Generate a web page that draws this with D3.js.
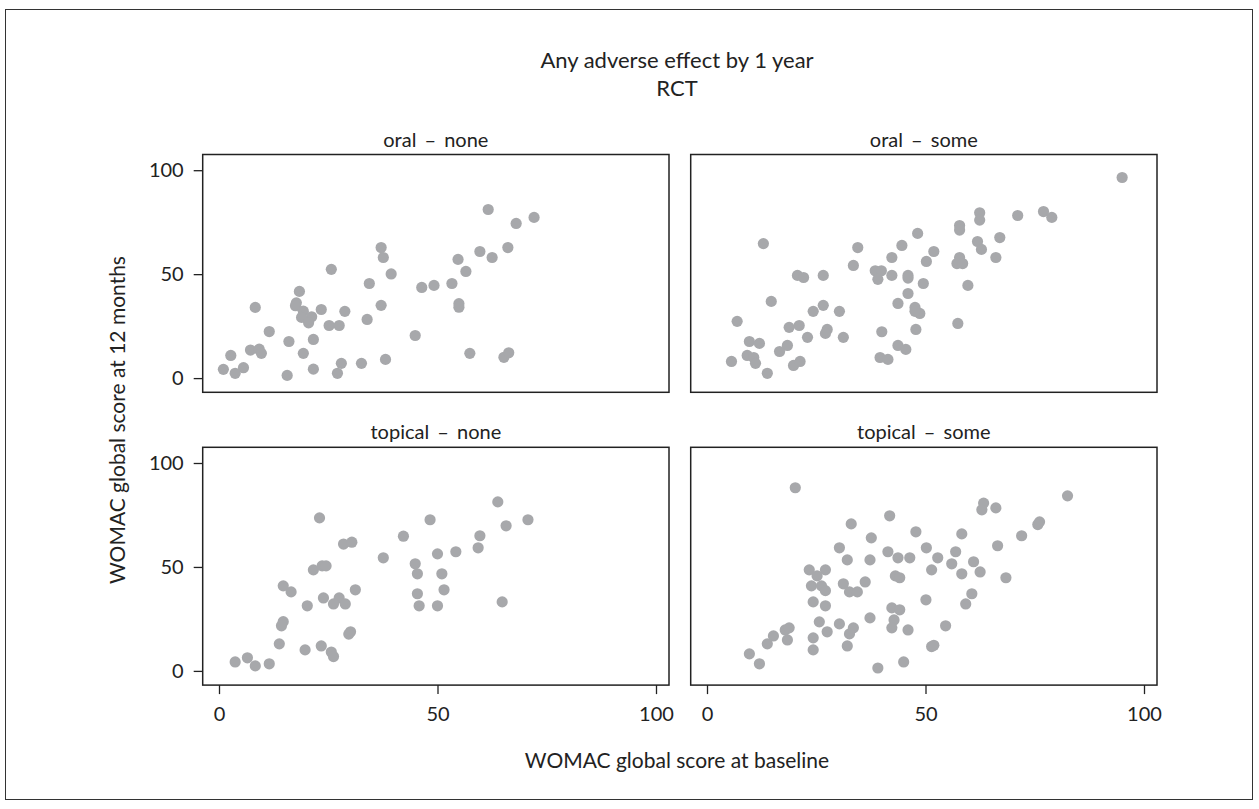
<!DOCTYPE html>
<html>
<head>
<meta charset="utf-8">
<script src="https://cdn.jsdelivr.net/npm/d3@7"></script>
<style>
  body { margin: 0; background: #fff; }
  svg text { font-family: "Gill Sans", "Lato", sans-serif; fill: #222; }
</style>
</head>
<body>
<svg id="chart" width="1259" height="809"></svg>
<script>
// panel titles (facet labels)
var panelNames = ["oral \u2013 none", "oral \u2013 some", "topical \u2013 none", "topical \u2013 some"];
var xTicks = [0, 50, 100];
var yTicks = [0, 50, 100];

// [baseline, 12 months]
var oralNone = [
  [37.1,62.8],[37.6,58.0],[25.7,52.3],[39.4,50.1],[34.4,45.5],[46.4,43.6],[49.2,44.6],
  [18.4,41.7],[8.3,34.0],[17.7,36.2],[17.5,34.8],[19.3,32.2],[21.2,29.5],[18.9,29.2],
  [20.5,26.6],[23.4,33.0],[28.8,32.1],[25.2,25.3],[27.5,25.3],[37.1,35.0],[33.9,28.2],
  [11.5,22.4],[16.0,17.6],[21.6,18.6],[44.9,20.5],[7.2,13.5],[9.2,13.9],[9.7,11.9],
  [2.7,10.9],[19.3,11.9],[5.6,5.0],[1.0,4.2],[3.7,2.3],[15.6,1.3],[21.6,4.3],[28.0,7.1],
  [27.1,2.3],[32.6,7.1],[38.1,9.0],
  [61.6,81.1],[72.1,77.3],[68.0,74.4],[66.1,62.8],[59.7,60.9],[62.5,58.0],[54.7,57.1],
  [56.5,51.3],[53.3,45.5],[54.9,35.8],[54.9,34.1],[57.4,11.9],[65.2,10.0],[66.3,12.2]
];

var oralSome = [
  [48.2,69.6],[12.9,64.7],[34.5,62.8],[44.6,63.8],[42.3,58.0],[50.2,56.1],[33.5,54.2],
  [20.7,49.4],[22.1,48.4],[26.6,49.4],[38.5,51.6],[39.9,51.6],[39.1,47.5],[42.3,49.4],
  [46.0,49.4],[46.0,48.1],[49.5,45.5],[46.0,40.7],[43.7,35.9],[47.6,34.0],[48.7,31.1],
  [47.6,32.1],[47.8,23.4],[40.0,22.3],[43.7,15.7],[45.5,13.8],[39.6,9.9],[41.4,9.0],
  [14.7,36.9],[26.6,35.0],[24.3,32.1],[30.3,32.1],[21.1,25.3],[18.8,24.4],[27.5,23.4],
  [27.1,21.5],[23.0,19.6],[31.2,19.6],[6.9,27.3],[9.7,17.6],[12.0,16.7],[18.4,15.7],
  [16.6,12.8],[9.2,10.9],[10.7,9.9],[11.1,7.1],[5.6,8.0],[13.8,2.3],[19.8,6.1],[21.3,8.0],
  [95.0,96.5],[77.0,80.1],[78.9,77.3],[71.1,78.2],[62.4,79.5],[62.4,76.0],[57.8,73.4],
  [57.8,71.2],[67.0,67.6],[61.9,65.7],[62.8,61.9],[51.9,60.9],[57.8,58.0],[57.2,55.1],
  [58.5,55.1],[66.1,58.0],[59.7,44.6],[57.4,26.3]
];

var topicalNone = [
  [23.0,73.6],[48.3,72.7],[42.2,64.8],[28.5,61.0],[30.4,61.9],[37.6,54.4],[50.0,56.3],
  [21.6,48.6],[23.6,50.5],[24.5,50.5],[44.9,51.5],[45.4,46.7],[14.7,40.9],[16.5,38.0],
  [23.9,35.1],[27.5,35.1],[26.2,32.2],[28.9,32.2],[31.2,39.0],[20.2,31.3],[45.4,37.1],
  [45.8,31.3],[50.0,31.3],[51.0,46.7],[51.5,39.0],[14.7,23.7],[14.3,21.7],[30.1,18.8],
  [29.7,17.7],[13.8,13.0],[19.7,10.1],[23.4,12.0],[25.7,9.1],[26.2,6.9],[3.7,4.3],
  [6.5,6.3],[8.3,2.4],[11.5,3.4],
  [63.8,81.3],[70.7,72.7],[65.7,69.8],[59.7,65.0],[59.3,59.2],[54.2,57.3],[64.8,33.2]
];

var topicalSome = [
  [20.2,88.1],[41.8,74.6],[33.0,70.7],[47.8,66.9],[37.6,64.0],[30.3,59.2],[50.2,59.2],
  [41.4,57.3],[43.7,54.4],[46.4,54.4],[32.1,53.4],[37.3,53.4],[51.4,48.6],[23.4,48.6],
  [27.1,48.6],[25.2,45.7],[43.1,45.7],[44.1,44.8],[23.9,40.9],[26.2,40.9],[27.1,38.6],
  [31.2,41.9],[36.2,42.8],[32.6,38.0],[34.4,38.0],[24.3,33.2],[27.1,31.3],[50.1,34.2],
  [42.3,30.3],[44.1,29.4],[37.3,25.5],[42.8,24.5],[42.3,20.7],[46.0,19.7],[25.7,23.6],
  [30.3,22.6],[33.5,20.7],[32.6,17.8],[27.5,18.8],[24.3,15.9],[24.3,10.1],[32.1,12.0],
  [17.9,19.7],[18.8,20.7],[18.4,14.9],[15.2,16.8],[13.8,13.0],[9.7,8.2],[12.0,3.4],
  [39.1,1.4],[45.0,4.3],[51.4,11.7],[51.9,12.3],
  [82.5,84.2],[63.3,80.7],[62.9,77.5],[66.1,78.4],[76.1,71.7],[75.7,70.4],[72.0,65.0],
  [58.3,65.9],[66.5,60.2],[56.9,57.3],[52.8,54.4],[56.0,51.5],[61.0,52.5],[58.3,46.7],
  [62.5,47.6],[68.4,44.8],[60.6,37.1],[59.2,32.2],[54.6,21.7]
];

var panelData = [oralNone, oralSome, topicalNone, topicalSome];

var svg = d3.select("#chart");
var pw = 466.3, ph = 237.8;
var colX = [202.7, 690.7], rowY = [154.5, 447.3];

// outer frame
svg.append("rect")
  .attr("x", 5.5).attr("y", 9.5).attr("width", 1247).attr("height", 790)
  .attr("fill", "none").attr("stroke", "#333").attr("stroke-width", 1);

var x = d3.scaleLinear().domain([0, 100]).range([16.3, 453.3]);
var y = d3.scaleLinear().domain([0, 100]).range([223.6, 15.7]);

panelNames.forEach(function(name, i) {
  var col = i % 2, row = Math.floor(i / 2);
  var g = svg.append("g")
    .attr("transform", "translate(" + colX[col] + "," + rowY[row] + ")");

  g.selectAll("circle")
    .data(panelData[i])
    .join("circle")
    .attr("cx", function(d) { return x(d[0]); })
    .attr("cy", function(d) { return y(d[1]); })
    .attr("r", 5.6)
    .attr("fill", "#a7a8ab");

  g.append("rect")
    .attr("width", pw).attr("height", ph)
    .attr("fill", "none").attr("stroke", "#222").attr("stroke-width", 1.5);

  g.append("text")
    .attr("x", pw / 2).attr("y", -8)
    .attr("text-anchor", "middle")
    .style("font-size", "20px")
    .style("word-spacing", "3px")
    .text(name);

  if (col == 0) {
    var ya = g.append("g")
      .call(d3.axisLeft(y).tickValues(yTicks).tickSize(9).tickPadding(10));
    ya.select(".domain").remove();
    ya.selectAll("line").attr("stroke", "#222").attr("stroke-width", 1.3);
    ya.selectAll("text").style("font-size", "20px").attr("fill", "#222");
  }
  if (row == 1) {
    var xa = g.append("g")
      .attr("transform", "translate(0," + ph + ")")
      .call(d3.axisBottom(x).tickValues(xTicks).tickSize(9).tickPadding(13));
    xa.select(".domain").remove();
    xa.selectAll("line").attr("stroke", "#222").attr("stroke-width", 1.3);
    xa.selectAll("text").style("font-size", "20px").attr("fill", "#222");
  }
});

// titles
svg.append("text").attr("x", 677).attr("y", 68)
  .attr("text-anchor", "middle").style("font-size", "22px")
  .text("Any adverse effect by 1 year");
svg.append("text").attr("x", 677).attr("y", 96)
  .attr("text-anchor", "middle").style("font-size", "22px")
  .text("RCT");

svg.append("text")
  .attr("transform", "translate(125,420) rotate(-90)")
  .attr("text-anchor", "middle").style("font-size", "21px")
  .text("WOMAC global score at 12 months");

svg.append("text").attr("x", 677).attr("y", 768)
  .attr("text-anchor", "middle").style("font-size", "21px")
  .text("WOMAC global score at baseline");
</script>
</body>
</html>
